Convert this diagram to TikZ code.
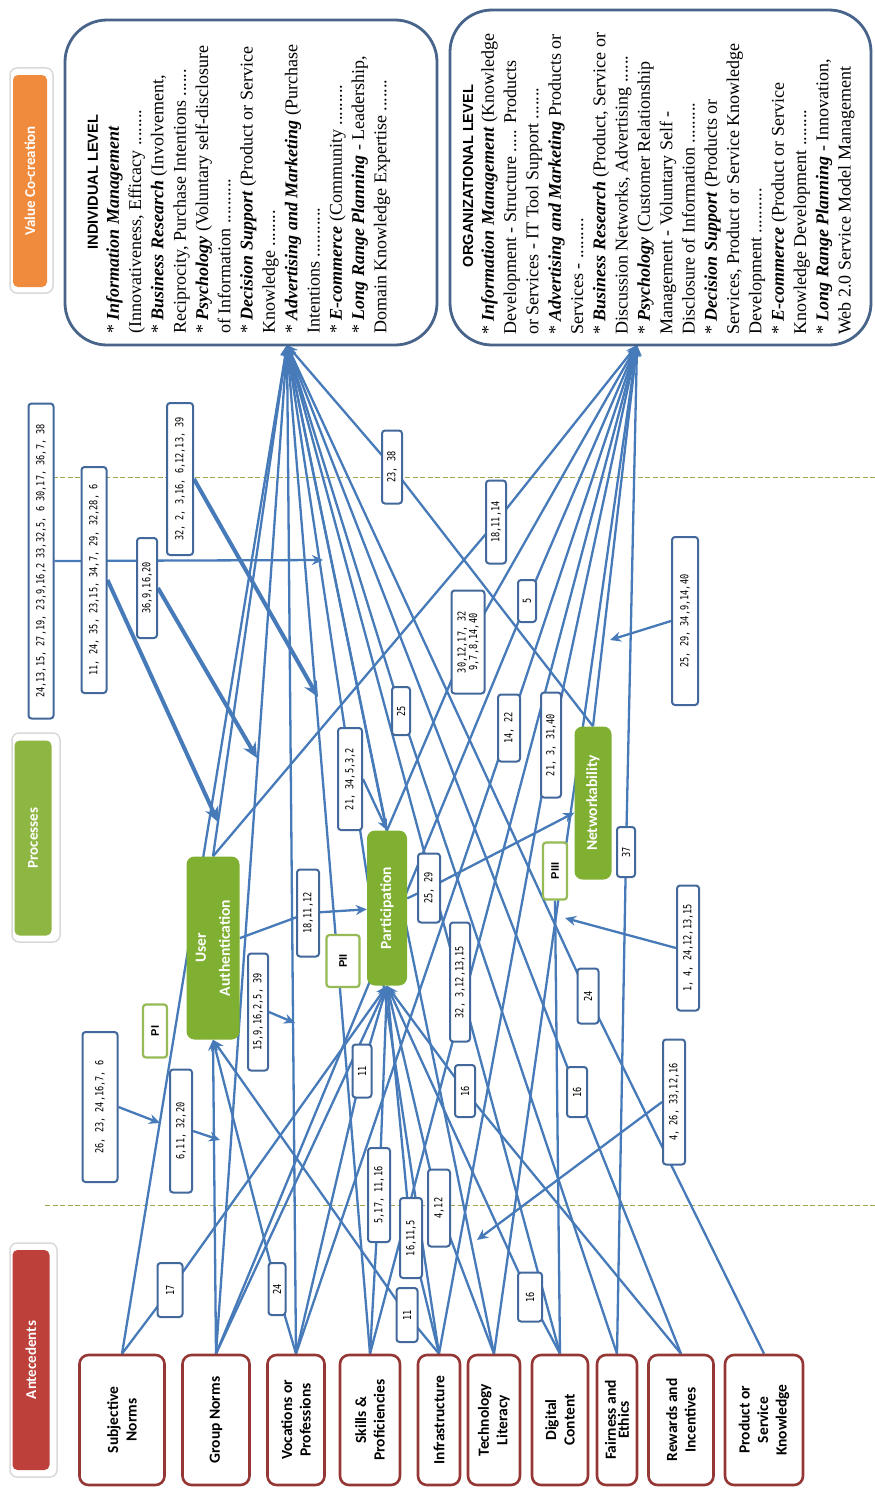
\documentclass[tikz,border=0pt]{standalone}
\usepackage{fontspec}
\setmainfont{Liberation Serif}
\newfontfamily\calfont{Carlito}
\newfontfamily\numfont[FakeStretch=0.78]{DejaVu Sans Mono}
\newfontfamily\headfont{Liberation Sans}
\usetikzlibrary{arrows.meta}
\pgfdeclarelayer{background}
\pgfsetlayers{background,main}
\newcommand{\term}[1]{\textbf{\textit{#1}}}
\definecolor{lineblue}{RGB}{70,122,185}
\definecolor{labelblue}{RGB}{66,104,156}
\definecolor{antered}{RGB}{149,55,53}
\definecolor{headred}{RGB}{190,64,58}
\definecolor{headgreen}{RGB}{142,182,66}
\definecolor{headorange}{RGB}{240,138,60}
\definecolor{procgreen}{RGB}{128,176,50}
\definecolor{pgreen}{RGB}{150,186,86}
\definecolor{valframe}{RGB}{72,100,138}
\definecolor{dashcol}{RGB}{160,165,80}
\begin{document}
\begin{tikzpicture}[x=1pt,y=-1pt,
  conn/.style={draw=lineblue, line width=2.3pt, -{Stealth[length=11pt,width=10pt]}},
  plainline/.style={draw=lineblue, line width=2.3pt},
  modarrow/.style={draw=lineblue, line width=4pt, -{Stealth[length=15pt,width=14pt]}},
  sep/.style={draw=dashcol, line width=0.9pt, dash pattern=on 5pt off 2.5pt},
  ante/.style={rotate=90, draw=antered, line width=2.6pt, rounded corners=9pt, fill=white,
    minimum width=130pt, align=center, inner sep=1pt,
    font=\calfont\bfseries\fontsize{15.5}{18.5}\selectfont},
  proc/.style={rotate=90, fill=procgreen, rounded corners=8pt, text=white, align=center,
    inner sep=1pt, font=\calfont\bfseries\fontsize{15.5}{24}\selectfont},
  head/.style={rotate=90, rounded corners=5pt, text=white, inner sep=1pt,
    font=\calfont\bfseries\fontsize{15}{18}\selectfont},
  headframe/.style={draw=gray!30, line width=1.5pt, rounded corners=7pt, fill=white},
  lab/.style={rotate=90, draw=labelblue, line width=2pt, fill=white, rounded corners=3pt,
    inner sep=1pt, align=center, font=\numfont\fontsize{11}{11.5}\selectfont},
  pbox/.style={rotate=90, draw=pgreen, line width=2.2pt, fill=white, rounded corners=3pt,
    inner sep=1pt, font=\headfont\bfseries\fontsize{11}{13}\selectfont},
  valbox/.style={draw=valframe, line width=2.8pt, rounded corners=42pt, fill=white},
  valtitle/.style={rotate=90, inner sep=0pt, font=\headfont\bfseries\fontsize{14.6}{17}\selectfont},
  valtext/.style={rotate=90, inner sep=0pt, align=left, font=\fontsize{18}{22.3}\selectfont},
]
\useasboundingbox (0,0) rectangle (875,1488);

% ---------- column headers ----------
\draw[headframe] (10,1243) rectangle (57,1477);
\node[head, fill=headred, minimum width=220pt, minimum height=37pt] (hA) at (31,1360) {Antecedents};
\draw[headframe] (12,733) rectangle (60,942);
\node[head, fill=headgreen, minimum width=195pt, minimum height=37pt] (hP) at (33,838) {Processes};
\draw[headframe] (10,68) rectangle (53,293);
\node[head, fill=headorange, minimum width=212pt, minimum height=34pt] (hV) at (30,181) {Value Co-creation};

% ---------- value co-creation boxes ----------
\draw[valbox] (65,20) rectangle (437,345);
\node[valtitle] (indT) at (93,182) {INDIVIDUAL LEVEL};
\node[valtext, anchor=north west] (indB) at (106,334) {%
* \term{Information Management}\\
(Innovativeness, Efficacy ........\\
* \term{Business Research} (Involvement,\\
Reciprocity, Purchase Intentions ......\\
* \term{Psychology} (Voluntary self-disclosure\\
of Information ..........\\
* \term{Decision Support} (Product or Service\\
Knowledge ........\\
* \term{Advertising and Marketing} (Purchase\\
Intentions ...........\\
* \term{E-commerce} (Community .........\\
* \term{Long Range Planning} - Leadership,\\
Domain Knowledge Expertise .......};

\draw[valbox] (450,10) rectangle (871,345);
\node[valtitle] (orgT) at (468,176) {ORGANIZATIONAL LEVEL};
\node[valtext, anchor=north west] (orgB) at (481,335) {%
* \term{Information Management} (Knowledge\\
Development - Structure ..... Products\\
or Services - IT Tool Support .......\\
* \term{Advertising and Marketing} Products or\\
Services - .........\\
* \term{Business Research} (Product, Service or\\
Discussion Networks, Advertising ......\\
* \term{Psychology} (Customer Relationship\\
Management - Voluntary Self -\\
Disclosure of Information .........\\
* \term{Decision Support} (Products or\\
Services, Product or Service Knowledge\\
Development ..........\\
* \term{E-commerce} (Product or Service\\
Knowledge Development ........\\
* \term{Long Range Planning} - Innovation,\\
Web 2.0 Service Model Management};

\coordinate (ind) at (287,345);
\coordinate (org) at (637,345);

% ---------- antecedents ----------
\node[ante, minimum height=85pt] (SN) at (122,1420) {Subjective\\Norms};
\node[ante, minimum height=67pt] (GN) at (216,1420) {Group Norms};
\node[ante, minimum height=57pt] (Voc) at (296,1420) {Vocations or\\Professions};
\node[ante, minimum height=60pt] (Sk) at (370,1420) {Skills \&\\Proficiencies};
\node[ante, minimum height=42pt] (Inf) at (439,1420) {Infrastructure};
\node[ante, minimum height=52pt] (Tech) at (494,1420) {Technology\\Literacy};
\node[ante, minimum height=56pt] (Dig) at (560,1420) {Digital\\Content};
\node[ante, minimum height=40pt, inner sep=0pt,
  font=\calfont\bfseries\fontsize{15.5}{13}\selectfont] (Fair) at (617,1420) {Fairness and\\Ethics};
\node[ante, minimum height=65pt] (Rew) at (681,1420) {Rewards and\\Incentives};
\node[ante, minimum height=78pt] (Prod) at (764,1420) {Product or\\Service\\Knowledge};

% ---------- processes ----------
\node[proc, minimum width=183pt, minimum height=53pt] (UA) at (213,948) {User\\Authentication};
\node[proc, minimum width=155pt, minimum height=40pt] (Part) at (387,908) {Participation};
\node[proc, minimum width=153pt, minimum height=37pt] (Net) at (593,803) {Networkability};

\node[pbox, minimum width=53pt, minimum height=24pt] (PI) at (155,1031) {PI};
\node[pbox, minimum width=52pt, minimum height=33pt] (PII) at (343,961) {PII};
\node[pbox, minimum width=57pt, minimum height=24pt] (PIII) at (555,871) {PIII};

% ---------- reference labels ----------
\node[lab, minimum width=315pt, minimum height=25pt] (L1) at (41,561) {24,13,15, 27,19, 23,9,16,2 33,32,5, 6 30,17, 36,7, 38};
\node[lab, minimum width=226pt, minimum height=25pt] (L2) at (94,580) {11, 24, 35, 23,15, 34,7, 29, 32,28, 6};
\node[lab, minimum width=100pt, minimum height=20pt] (L3) at (147,588) {36,9,16,20};
\node[lab, minimum width=152pt, minimum height=26pt] (L4) at (180,479) {32, 2, 3,16, 6,12,13, 39};
\node[lab, minimum width=73pt, minimum height=20pt] (l2338) at (392,467) {23, 38};
\node[lab, minimum width=83pt, minimum height=20pt] (l181114) at (496,522) {18,11,14};
\node[lab, minimum width=103pt, minimum height=33pt] (l3012) at (468,642) {30,12,17, 32\\9,7,8,14,40};
\node[lab, minimum width=42pt, minimum height=18pt] (l5) at (527,601) {5};
\node[lab, minimum width=48pt, minimum height=18pt] (l25) at (401,711) {25};
\node[lab, minimum width=67pt, minimum height=22pt] (l1422) at (509,728) {14, 22};
\node[lab, minimum width=105pt, minimum height=20pt] (l21331) at (551,745) {21, 3, 31,40};
\node[lab, minimum width=102pt, minimum height=24pt] (l2134) at (350,779) {21, 34,5,3,2};
\node[lab, minimum width=87pt, minimum height=22pt] (l181112) at (308,913) {18,11,12};
\node[lab, minimum width=69pt, minimum height=22pt] (l2529) at (429,888) {25, 29};
\node[lab, minimum width=119pt, minimum height=20pt] (l323) at (460,982) {32, 3,12,13,15};
\node[lab, minimum width=53pt, minimum height=19pt] (l11a) at (362,1071) {11};
\node[lab, minimum width=52pt, minimum height=20pt] (l16a) at (465,1091) {16};
\node[lab, minimum width=55pt, minimum height=21pt] (l24b) at (588,996) {24};
\node[lab, minimum width=50pt, minimum height=20pt] (l16b) at (577,1092) {16};
\node[lab, minimum width=117pt, minimum height=20pt] (l159) at (258,1012) {15,9,16,2,5, 39};
\node[lab, minimum width=150pt, minimum height=35pt] (l2623) at (100,1107) {26, 23, 24,16,7, 6};
\node[lab, minimum width=123pt, minimum height=22pt] (l611) at (181,1131) {6,11, 32,20};
\node[lab, minimum width=52pt, minimum height=17pt] (l24a) at (277,1289) {24};
\node[lab, minimum width=54pt, minimum height=25pt] (l17) at (170,1290) {17};
\node[lab, minimum width=94pt, minimum height=22pt] (l517) at (379,1195) {5,17, 11,16};
\node[lab, minimum width=80pt, minimum height=22pt] (l16115) at (411,1238) {16,11,5};
\node[lab, minimum width=77pt, minimum height=22pt] (l412) at (439,1208) {4,12};
\node[lab, minimum width=54pt, minimum height=21pt] (l11b) at (407,1315) {11};
\node[lab, minimum width=49pt, minimum height=24pt] (l16c) at (530,1297) {16};
\node[lab, minimum width=125pt, minimum height=22pt] (l426) at (674,1102) {4, 26, 33,12,16};
\node[lab, minimum width=50pt, minimum height=18pt] (l37) at (626,852) {37};
\node[lab, minimum width=125pt, minimum height=22pt] (l14) at (688,948) {1, 4, 24,12,13,15};
\node[lab, minimum width=168pt, minimum height=26pt] (l2529b) at (685,621) {25, 29, 34,9,14,40};

% free ends of the moderating arrows
\coordinate (m1) at (323,560);
\coordinate (m2) at (218,822);
\coordinate (m3) at (257,758);
\coordinate (m4) at (318,697);
\coordinate (m5) at (295,1023);
\coordinate (m6) at (160,1123);
\coordinate (m7) at (220,1140);
\coordinate (m8) at (477,1240);
\coordinate (m9) at (565,918);
\coordinate (m10) at (610,640);

\begin{pgfonlayer}{background}
\fill[white] (0,0) rectangle (875,1488);
\draw[sep] (30,477) -- (875,477);
\draw[sep] (45,1205) -- (875,1205);

% into individual-level value co-creation
\draw[conn] (SN.east) -- (ind);
\draw[conn] (GN.east) -- (ind);
\draw[conn] (Voc.east) -- (ind);
\draw[conn] (Sk.east) -- (ind);
\draw[conn] (Inf.east) -- (ind);
\draw[conn] (Tech.east) -- (ind);
\draw[conn] (Dig.east) -- (ind);
\draw[conn] (Fair.east) -- (l25.center) -- (ind);
\draw[conn] (Rew.east) -- (l16b.center) -- (ind);
\draw[conn] (Prod.east) -- (l24b.center) -- (ind);
\draw[conn] (UA.east) -- (ind);
\draw[conn] (Part.east) -- (ind);
\draw[conn] (Net.east) -- (l2338.center) -- (ind);

% into organizational-level value co-creation
\draw[conn] (UA.east) -- (l181114.center) -- (org);
\draw[conn] (Part.east) -- (l3012.center) -- (org);
\draw[conn] (Net.east) -- (org);
\draw[conn] (Fair.east) -- (l37.center) -- (org);
\draw[conn] (GN.east) -- (l5.center) -- (org);
\draw[conn] (Voc.east) -- (l1422.center) -- (org);
\draw[conn] (Inf.east) -- (l21331.center) -- (org);
\draw[conn] (Tech.east) -- (org);
\draw[conn] (Sk.east) -- (org);

% into participation
\draw[conn] (SN.east) -- (l17.center) -- (Part.west);
\draw[conn] (GN.east) -- (Part.west);
\draw[conn] (Voc.east) -- (l11a.center) -- (Part.west);
\draw[conn] (Sk.east) -- (l517.center) -- (Part.west);
\draw[conn] (Inf.east) -- (l16115.center) -- (Part.west);
\draw[conn] (Tech.east) -- (l412.center) -- (Part.west);
\draw[conn] (Dig.east) -- (l16c.center) -- (Part.west);
\draw[conn] (Rew.east) -- (l16a.center) -- (Part.west);
\draw[conn] (l2134.south) -- (Part.east);

% into user authentication
\draw[conn] (GN.east) -- (UA.west);
\draw[conn] (Voc.east) -- (l24a.center) -- (UA.west);
\draw[conn] (Inf.east) -- (l11b.center) -- (UA.west);

% between processes
\draw[conn] (UA) -- (l181112.center) -- (Part);
\draw[conn] (Part) -- (l2529.center) -- (Net);
\draw[plainline] (Dig.east) -- (PIII.west);

% moderating arrows
\draw[conn] (L1.south) -- (m1);
\draw[modarrow] (L2.south) -- (m2);
\draw[modarrow] (L3.south) -- (m3);
\draw[modarrow] (L4.south) -- (m4);
\draw[conn] (l159.south) -- (m5);
\draw[conn] (l2623.south) -- (m6);
\draw[conn] (l611.south) -- (m7);
\draw[conn] (l426.north) -- (m8);
\draw[conn] (l14.north) -- (m9);
\draw[conn] (l2529b.north) -- (m10);
\end{pgfonlayer}
\end{tikzpicture}
\end{document}
